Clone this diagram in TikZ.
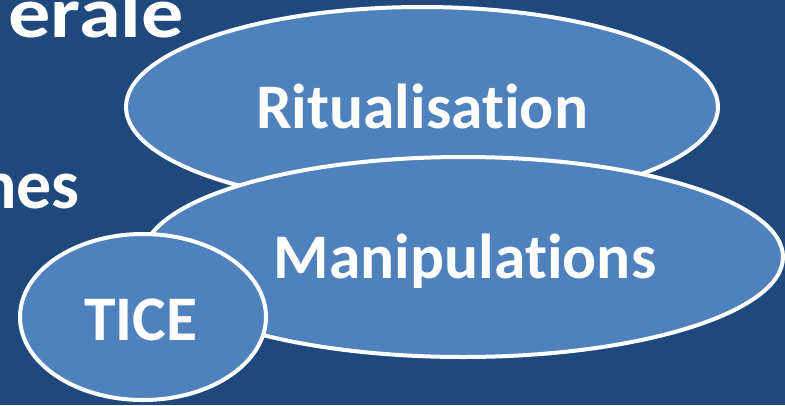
\documentclass[tikz,border=0pt]{standalone}
\usepackage{fontspec}
\setmainfont{Carlito}[Ligatures={NoCommon}]
\usepackage{tikz}
\usetikzlibrary{shapes.geometric}
\definecolor{fond}{HTML}{1F497D}
\definecolor{bulle}{HTML}{4F81BD}

\begin{document}
\begin{tikzpicture}[x=1pt,y=-1pt]
\tikzstyle{every node}+=[inner sep=0pt]
\tikzstyle{ovale}=[ellipse, draw=white, line width=4pt, fill=bulle]
\tikzstyle{mot}=[text=white, font=\bfseries\fontsize{63.5}{70}\selectfont, anchor=base]
\tikzstyle{titre}=[text=white, font=\bfseries\fontsize{70}{80}\selectfont, anchor=base east]
\useasboundingbox (0,0) rectangle (785,405);
\clip (0,0) rectangle (785,405);
\fill [fond] (0,0) rectangle (785,405);
% texte de la diapositive
\node [titre, font=\bfseries\fontsize{72}{80}\selectfont] (t1) at (184,37) {\scalebox{1.17}[1]{érale}};
\node [titre] (t2) at (80,208) {nes};
% bulles
\node [ovale, minimum width=592pt, minimum height=200pt] (rit) at (422,107) {};
\node [mot] (ritlab) at (422,128) {Ritualisation};
\node [ovale, minimum width=640pt, minimum height=200pt] (man) at (463,257) {};
\node [mot] (manlab) at (465,278) {Manipulations};
\node [ovale, minimum width=246pt, minimum height=166pt] (tice) at (143,317) {};
\node [mot] (ticelab) at (141,340) {TICE};
\end{tikzpicture}
\end{document}
